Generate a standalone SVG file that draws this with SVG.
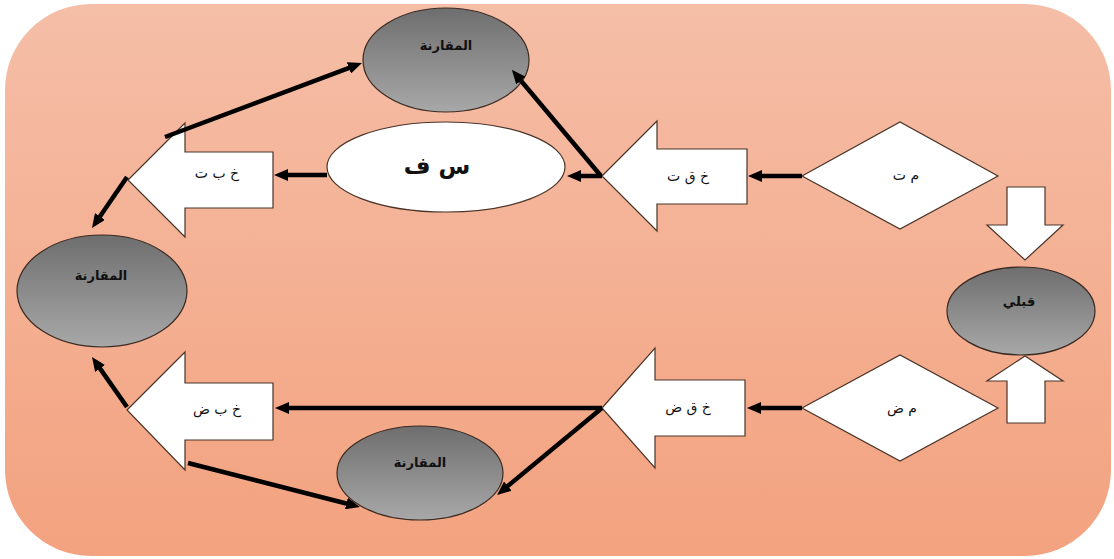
<svg xmlns="http://www.w3.org/2000/svg" width="1114" height="559" viewBox="0 0 1114 559">
<defs>
<linearGradient id="bg" x1="0" y1="0" x2="0" y2="1">
<stop offset="0" stop-color="#f5bea7"/>
<stop offset="1" stop-color="#f3a27f"/>
</linearGradient>
<linearGradient id="gray" x1="0" y1="0" x2="0" y2="1">
<stop offset="0" stop-color="#6e6e6e"/>
<stop offset="1" stop-color="#a8a8a8"/>
</linearGradient>
<marker id="ah" viewBox="0 0 14 12" refX="6" refY="6" markerWidth="14" markerHeight="12" markerUnits="userSpaceOnUse" orient="auto">
<path d="M0,0 L14,6 L0,12 z" fill="#000"/>
</marker>
<style>
.g{fill:url(#gray);stroke:#3a2a22;stroke-width:1.2}
.w{fill:#fff;stroke:#4a3428;stroke-width:1.2}
.c{fill:none;stroke:#000;stroke-width:4.5;marker-end:url(#ah)}
.t{font-family:"DejaVu Sans",sans-serif;fill:#111;text-anchor:middle}
.ts{font-size:13px;font-weight:bold}
.ta{font-size:14px}
.tb{font-size:23px;font-weight:bold}
</style>
</defs>
<rect x="5" y="4" width="1106" height="552" rx="86" ry="86" fill="url(#bg)"/>

<g id="node-top-compare">
<ellipse class="g" cx="446" cy="60" rx="83" ry="52"/>
<text class="t ts" x="446" y="50">المقارنة</text>
</g>
<g id="node-left-compare">
<ellipse class="g" cx="102" cy="291" rx="85" ry="56"/>
<text class="t ts" x="101" y="280">المقارنة</text>
</g>
<g id="node-bottom-compare">
<ellipse class="g" cx="420" cy="473" rx="83" ry="47"/>
<text class="t ts" x="420" y="467">المقارنة</text>
</g>
<g id="node-qabli">
<ellipse class="g" cx="1021" cy="311" rx="74" ry="44"/>
<text class="t ts" x="1019" y="306">قبلي</text>
</g>
<g id="node-sf">
<ellipse class="w" cx="446" cy="167" rx="119" ry="45"/>
<text class="t tb" x="437" y="174">س ف</text>
</g>
<g id="node-khbt">
<polygon class="w" points="128,180 185,123 185,152 273,152 273,208 185,208 185,237"/>
<text class="t ta" x="217" y="178">خ ب ت</text>
</g>
<g id="node-khqt">
<polygon class="w" points="602,176 657,121 657,149 747,149 747,204 657,204 657,231"/>
<text class="t ta" x="688" y="181">خ ق ت</text>
</g>
<g id="node-khbd">
<polygon class="w" points="127,410 185,352 185,383 273,383 273,440 185,440 185,470"/>
<text class="t ta" x="217" y="414">خ ب ض</text>
</g>
<g id="node-khqd">
<polygon class="w" points="602,408 655,348 655,380 745,380 745,436 655,436 655,468"/>
<text class="t ta" x="688" y="412">خ ق ض</text>
</g>
<g id="node-mt">
<polygon class="w" points="802,176 900,122 998,176 900,229"/>
<text class="t ta" x="906" y="180">م ت</text>
</g>
<g id="node-md">
<polygon class="w" points="802,408 900,355 998,408 900,461"/>
<text class="t ta" x="902" y="413">م ض</text>
</g>
<g id="node-down-arrow">
<polygon class="w" points="1007,187 1045,187 1045,225 1063,225 1025,260 987,225 1007,225"/>
</g>
<g id="node-up-arrow">
<polygon class="w" points="1007,423 1045,423 1045,381 1063,381 1025,356 987,381 1007,381"/>
</g>

<g id="connectors">
<line class="c" x1="802" y1="176" x2="756" y2="176"/>
<line class="c" x1="602" y1="176" x2="575" y2="176"/>
<line class="c" x1="601" y1="176" x2="517" y2="76"/>
<line class="c" x1="327" y1="175" x2="282" y2="175"/>
<line class="c" x1="165" y1="137" x2="354.5" y2="65.8"/>
<line class="c" x1="127" y1="177" x2="96.5" y2="221.4"/>
<line class="c" x1="802" y1="408" x2="755" y2="408"/>
<line class="c" x1="602" y1="408" x2="283" y2="408"/>
<line class="c" x1="602" y1="408" x2="503.2" y2="489.9"/>
<line class="c" x1="188" y1="463" x2="352.2" y2="505"/>
<line class="c" x1="127" y1="407" x2="96.6" y2="363.6"/>
</g>
</svg>
